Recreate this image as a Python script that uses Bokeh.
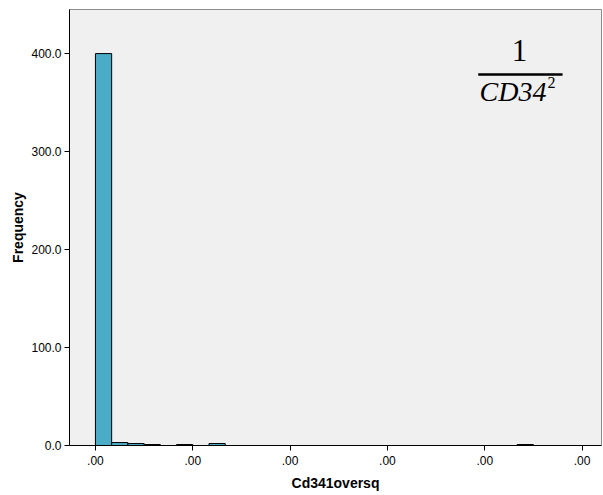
from bokeh.plotting import figure
from bokeh.models import FixedTicker, NumeralTickFormatter, Label, Range1d, BoxAnnotation
from bokeh.embed import file_html
from bokeh.resources import INLINE

# data: histogram bins (bin index -> frequency), 6 bins per labelled tick
bin_left = [0, 1, 2, 3, 5, 7, 26]
counts = [400, 3, 2, 1, 1, 2, 1]
x_ticks = [0, 6, 12, 18, 24, 30]
x_tick_labels = [".00", ".00", ".00", ".00", ".00", ".00"]
y_ticks = [0, 100, 200, 300, 400]

p = figure(width=603, height=495, output_backend="svg", toolbar_location=None,
           x_range=Range1d(-1.6, 31.2), y_range=Range1d(0, 445),
           min_border_left=69, min_border_right=2, min_border_top=9, min_border_bottom=50)

p.quad(left=bin_left, right=[b + 1 for b in bin_left], bottom=0, top=counts,
       fill_color="#4aacc6", line_color="black", line_width=1)

p.background_fill_color = "#f0f0f0"
p.border_fill_color = "white"
p.outline_line_color = "#8c8c8c"
p.xgrid.visible = False
p.ygrid.visible = False

p.xaxis.ticker = FixedTicker(ticks=x_ticks)
p.xaxis.major_label_overrides = {t: l for t, l in zip(x_ticks, x_tick_labels)}
p.yaxis.ticker = FixedTicker(ticks=y_ticks)
p.yaxis.formatter = NumeralTickFormatter(format="0.0")

for ax in (p.xaxis[0], p.yaxis[0]):
    ax.axis_line_color = "black"
    ax.major_tick_line_color = "black"
    ax.major_tick_out = 5
    ax.major_tick_in = 0
    ax.minor_tick_line_color = None
    ax.major_label_text_font = "Liberation Sans"
    ax.major_label_text_font_size = "12px"
    ax.major_label_text_color = "black"
    ax.axis_label_text_font = "Liberation Sans"
    ax.axis_label_text_font_size = "14px"
    ax.axis_label_text_font_style = "bold"
    ax.axis_label_text_color = "black"

p.xaxis.axis_label = "Cd341oversq"
p.yaxis.axis_label = "Frequency"
p.xaxis.major_label_standoff = 5
p.xaxis.axis_label_standoff = 7
p.yaxis.major_label_standoff = 3
p.yaxis.axis_label_standoff = 2

# formula annotation (data coordinates)
p.add_layout(Label(x=26.15, y=403.5, text="1",
                   text_font="Liberation Serif", text_font_size="31px",
                   text_align="center", text_baseline="alphabetic", text_color="black"))
p.add_layout(Label(x=23.68, y=361, text="CD34",
                   text_font="Liberation Serif", text_font_style="italic", text_font_size="28px",
                   text_align="left", text_baseline="alphabetic", text_color="black"))
p.add_layout(Label(x=27.87, y=370, text="2",
                   text_font="Liberation Serif", text_font_size="16px",
                   text_align="left", text_baseline="alphabetic", text_color="black"))
p.add_layout(BoxAnnotation(left=23.6, right=28.8, top=380, bottom=377.5,
                           fill_color="black", fill_alpha=1, line_color=None))

open("out.html", "w").write(file_html(p, INLINE))
